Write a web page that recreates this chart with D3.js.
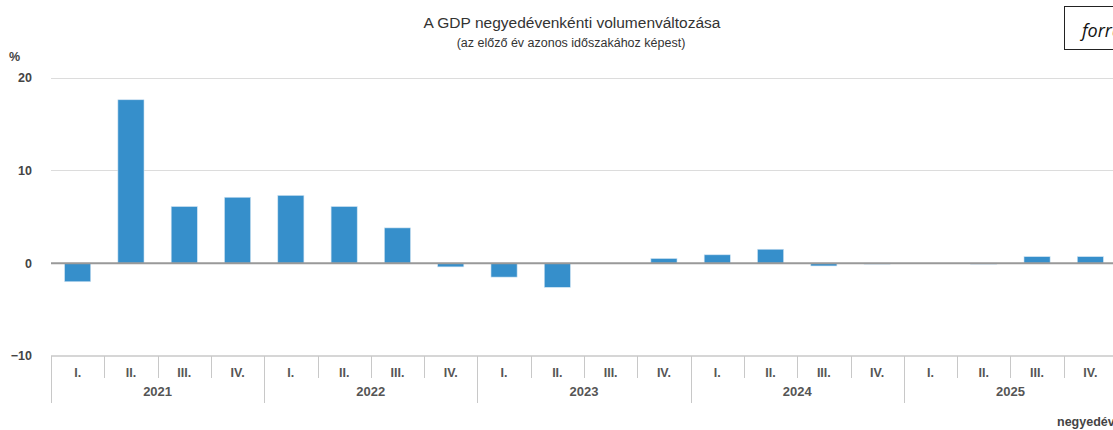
<!DOCTYPE html>
<html><head><meta charset="utf-8">
<script src="https://cdn.jsdelivr.net/npm/d3@7"></script>
<style>body{margin:0;background:#fff}svg{display:block;font-family:"Liberation Sans",Arial,sans-serif}</style>
</head><body><svg id="c" width="1113" height="430"></svg>
<script>
const years = ["2021","2022","2023","2024","2025"];
const quarters = ["I.","II.","III.","IV."];
const values = [-2.0, 17.6, 6.1, 7.1, 7.3, 6.1, 3.8, -0.4, -1.5, -2.6, 0.0, 0.5, 0.9, 1.5, -0.3, -0.1, 0.0, -0.1, 0.7, 0.7];
const yTicks = [-10, 0, 10, 20];
const title = "A GDP negyedévenkénti volumenváltozása";
const subtitle = "(az előző év azonos időszakához képest)";

const cats = [];
years.forEach(y => quarters.forEach(q => cats.push(y + " " + q)));
const data = cats.map((c, i) => ({cat: c, year: c.split(" ")[0], q: c.split(" ")[1], v: values[i]}));

const svg = d3.select("#c");
const x = d3.scaleBand().domain(cats).range([51, 1117]).padding(0);
const y = d3.scaleLinear().domain([-10, 20]).range([356, 77.5]);
const bw = x.bandwidth() * 0.49;

// gridlines
svg.append("g").selectAll("line").data(yTicks.filter(t => t > 0)).join("line")
  .attr("x1", 51).attr("x2", 1113).attr("y1", d => Math.round(y(d)) + 0.5).attr("y2", d => Math.round(y(d)) + 0.5)
  .attr("stroke", "#dcdcdc").attr("stroke-width", 1);

// bars
svg.append("g").selectAll("rect").data(data).join("rect")
  .attr("x", d => x(d.cat) + (x.bandwidth() - bw) / 2)
  .attr("width", bw)
  .attr("y", d => y(Math.max(0, d.v)))
  .attr("height", d => Math.abs(y(d.v) - y(0)))
  .attr("fill", "#368fcb").attr("stroke", "#cfe3f2").attr("stroke-width", 0.6);

// zero line
svg.append("line").attr("x1", 51).attr("x2", 1113).attr("y1", y(0)).attr("y2", y(0))
  .attr("stroke", "#999").attr("stroke-width", 2);

// y labels
svg.append("g").selectAll("text").data(yTicks).join("text")
  .attr("x", 32).attr("y", d => y(d)).attr("dy", "0.35em").attr("text-anchor", "end")
  .attr("font-size", 12.5).attr("font-weight", "bold").attr("fill", "#444")
  .text(d => d < 0 ? "\u2212" + Math.abs(d) : d);
svg.append("text").attr("x", 9).attr("y", 61).attr("font-size", 12.5).attr("font-weight", "bold").attr("fill", "#444").text("%");

// category axis
const axTop = y(-10);
const g = svg.append("g");
g.append("line").attr("x1", 51).attr("x2", 1113).attr("y1", axTop).attr("y2", axTop).attr("stroke", "#c8c8c8").attr("stroke-width", 1.5);
g.selectAll("line.q").data(data).join("line").attr("class", "q")
  .attr("x1", d => Math.round(x(d.cat)) + 0.5).attr("x2", d => Math.round(x(d.cat)) + 0.5)
  .attr("y1", axTop).attr("y2", d => d.q === "I." ? 403 : 378)
  .attr("stroke", "#c8c8c8").attr("stroke-width", 1);
g.selectAll("text.q").data(data).join("text").attr("class", "q")
  .attr("x", d => x(d.cat) + x.bandwidth() / 2).attr("y", 372.5).attr("dy", "0.35em")
  .attr("text-anchor", "middle").attr("font-size", 12.5).attr("font-weight", "bold").attr("fill", "#555")
  .text(d => d.q);
g.selectAll("text.y").data(years).join("text").attr("class", "y")
  .attr("x", d => (x(d + " I.") + x(d + " IV.") + x.bandwidth()) / 2).attr("y", 391).attr("dy", "0.35em")
  .attr("text-anchor", "middle").attr("font-size", 13).attr("font-weight", "bold").attr("fill", "#555")
  .text(d => d);

// axis title
svg.append("text").attr("x", 1057).attr("y", 422).attr("dy", "0.35em").attr("font-size", 12.5).attr("font-weight", "bold").attr("fill", "#444").text("negyedév");

// titles
svg.append("text").attr("x", 572).attr("y", 23).attr("dy", "0.35em").attr("text-anchor", "middle")
  .attr("font-size", 15.5).attr("fill", "#333").text(title);
svg.append("text").attr("x", 571).attr("y", 43).attr("dy", "0.35em").attr("text-anchor", "middle")
  .attr("font-size", 12.5).attr("fill", "#333").text(subtitle);

// top-right box
svg.append("rect").attr("x", 1064.5).attr("y", 6.5).attr("width", 80).attr("height", 43).attr("fill", "#fff").attr("stroke", "#222").attr("stroke-width", 1);
svg.append("text").attr("x", 1082).attr("y", 37).attr("font-family", "'Open Sans', sans-serif").attr("font-style", "italic").attr("font-size", 18).attr("fill", "#111").text("forrás");
</script></body></html>
